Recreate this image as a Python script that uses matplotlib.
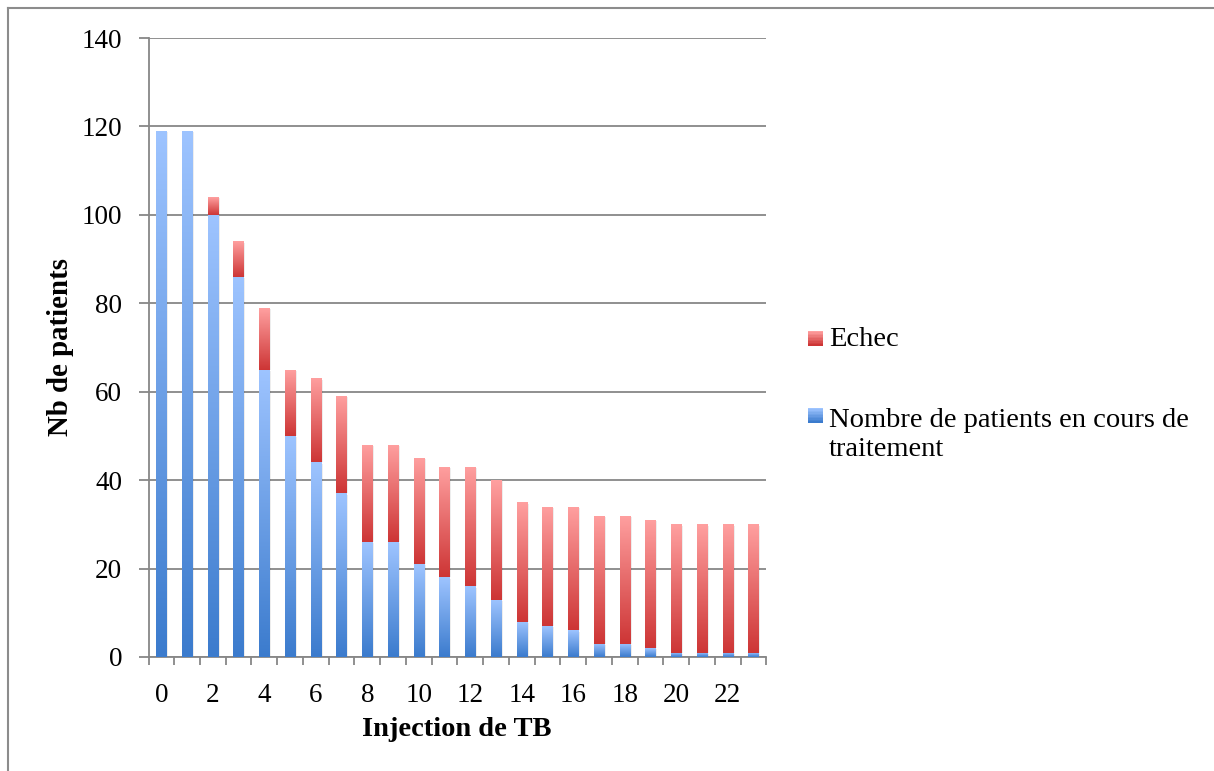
import numpy as np
import matplotlib
matplotlib.use('Agg')
import matplotlib.pyplot as plt
from matplotlib.colors import LinearSegmentedColormap
from matplotlib.patches import Rectangle
from matplotlib.lines import Line2D

# ---- data ----
injections = list(range(24))
en_cours = [119, 119, 100, 86, 65, 50, 44, 37, 26, 26, 21, 18, 16, 13, 8, 7, 6, 3, 3, 2, 1, 1, 1, 1]
echec = [0, 0, 4, 8, 14, 15, 19, 22, 22, 22, 24, 25, 27, 27, 27, 27, 28, 29, 29, 29, 29, 29, 29, 29]
series_labels = ["Echec", "Nombre de patients en cours de\ntraitement"]
xtick_values = list(range(0, 24, 2))
ytick_values = list(range(0, 141, 20))
xlabel = "Injection de TB"
ylabel = "Nb de patients"

plt.rcParams['font.family'] = ['Liberation Serif', 'DejaVu Serif']

W, H = 1214, 771
fig = plt.figure(figsize=(W / 100, H / 100), dpi=100)
ax = fig.add_axes([148.5 / W, (H - 657) / H, (766.5 - 148.5) / W, (657 - 38) / H])

blue_cmap = LinearSegmentedColormap.from_list('b', ['#3b7bcd', '#9ec4ff'])
red_cmap = LinearSegmentedColormap.from_list('r', ['#cd3535', '#ffa0a0'])
grad = np.linspace(0, 1, 256).reshape(-1, 1)


def gradient_bars(bars, cmap):
    for p in bars:
        x0, y0 = p.get_x(), p.get_y()
        w, h = p.get_width(), p.get_height()
        p.set_facecolor('none')
        p.set_edgecolor('none')
        if h <= 0:
            continue
        # soft shadow
        ax.add_patch(Rectangle((x0 + 0.06, y0), w, h - 0.3, facecolor='#000000',
                               alpha=0.07, edgecolor='none', zorder=2))
        im = ax.imshow(grad, extent=[x0, x0 + w, y0, y0 + h], origin='lower',
                       aspect='auto', cmap=cmap, zorder=3, interpolation='bilinear')
        im.set_clip_path(p)


b1 = ax.bar(injections, en_cours, width=0.4, zorder=3)
b2 = ax.bar(injections, echec, width=0.4, bottom=en_cours, zorder=3)
gradient_bars(b1, blue_cmap)
gradient_bars(b2, red_cmap)

ax.set_xlim(-0.5, 23.5)
ax.set_ylim(0, 140)

grid_c = '#878787'
ax.set_yticks(ytick_values)
ax.yaxis.grid(True, color=grid_c, linewidth=1.3)
ax.set_axisbelow(True)
for s in ['top', 'right']:
    ax.spines[s].set_visible(False)
for s in ['left', 'bottom']:
    ax.spines[s].set_color(grid_c)
    ax.spines[s].set_linewidth(1.3)

ax.set_xticks(xtick_values)
ax.set_xticklabels([str(v) for v in xtick_values])
ax.set_xticks(np.arange(-0.5, 24, 1), minor=True)
ax.tick_params(axis='x', which='major', length=0, pad=19, labelsize=19.5)
ax.tick_params(axis='x', which='minor', length=6, width=1.3, color=grid_c, direction='out')
ax.tick_params(axis='y', which='major', length=7, width=1.3, color=grid_c,
               direction='out', pad=12, labelsize=19.5)

fig.text(457 / W, 1 - 729 / H, xlabel, ha='center', va='center', fontsize=20.5, fontweight='bold')
fig.text(60 / W, 1 - 347 / H, ylabel, ha='center', va='center', rotation=90,
         fontsize=20.8, fontweight='bold')

# legend (manual)
def legend_square(x, y_top, cmap):
    n = 10
    hgt = 15
    for i in range(n):
        c = cmap(1 - i / (n - 1))
        fig.add_artist(Rectangle((x / W, 1 - (y_top + (i + 1) * hgt / n) / H),
                                 15 / W, (hgt / n) / H + 0.0005,
                                 transform=fig.transFigure, facecolor=c,
                                 edgecolor='none'))

legend_square(808, 331, red_cmap)
legend_square(808, 408, blue_cmap)
fig.text(829 / W, 1 - 339 / H, series_labels[0], ha='left', va='center', fontsize=20.5)
fig.text(829 / W, 1 - 408 / H, series_labels[1], ha='left', va='top', fontsize=20.5,
         linespacing=1.23)

# outer frame
fc = '#8c8c8c'
fig.add_artist(Line2D([8 / W, 8 / W], [0, 1 - 8 / H], transform=fig.transFigure, color=fc, lw=1.5))
fig.add_artist(Line2D([8 / W, 1], [1 - 8 / H, 1 - 8 / H], transform=fig.transFigure, color=fc, lw=1.5))

fig.savefig('out.png', dpi=100, facecolor='white')
